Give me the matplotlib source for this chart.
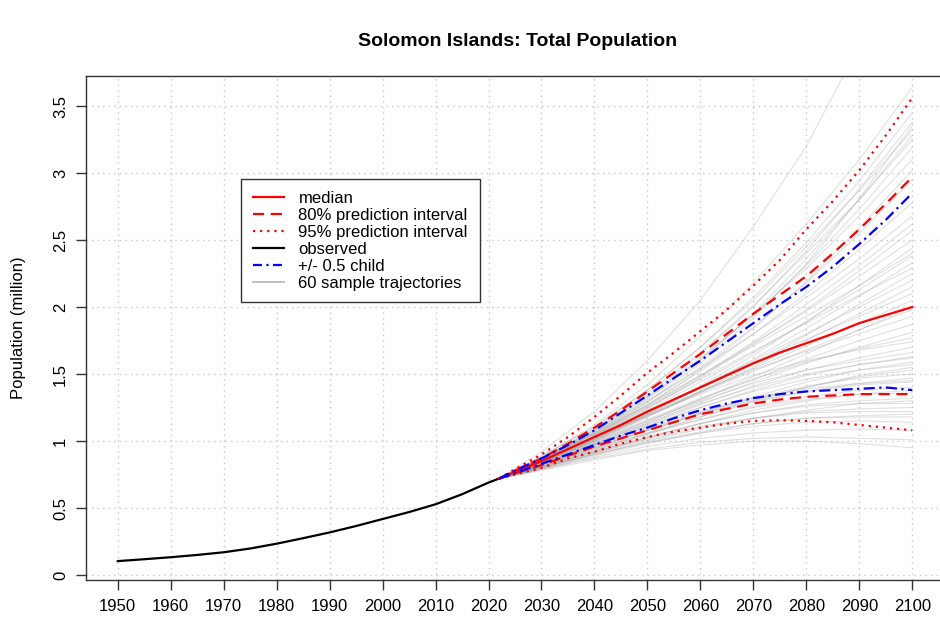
import matplotlib
matplotlib.use("Agg")
import matplotlib.pyplot as plt
from matplotlib.lines import Line2D

plt.rcParams['font.family'] = ['Liberation Sans', 'DejaVu Sans']

# ---------------- data ----------------
obs_years = [1950, 1955, 1960, 1965, 1970, 1975, 1980, 1985, 1990, 1995,
             2000, 2005, 2010, 2015, 2020, 2022]
obs_values = [0.104, 0.118, 0.133, 0.150, 0.170, 0.198, 0.234, 0.275, 0.318,
              0.366, 0.418, 0.470, 0.528, 0.603, 0.690, 0.720]

proj_years = [2022, 2025, 2030, 2035, 2040, 2045, 2050, 2055, 2060, 2065,
              2070, 2075, 2080, 2085, 2090, 2095, 2100]
median = [0.72, 0.77, 0.85, 0.94, 1.03, 1.12, 1.22, 1.31, 1.40, 1.49,
          1.58, 1.66, 1.73, 1.80, 1.88, 1.94, 2.00]
pi80_upper = [0.72, 0.78, 0.87, 0.98, 1.10, 1.23, 1.37, 1.51, 1.65, 1.80,
              1.95, 2.09, 2.23, 2.40, 2.58, 2.77, 2.97]
pi80_lower = [0.72, 0.76, 0.82, 0.89, 0.96, 1.02, 1.08, 1.14, 1.20, 1.24,
              1.28, 1.31, 1.33, 1.34, 1.35, 1.35, 1.35]
pi95_upper = [0.72, 0.79, 0.90, 1.03, 1.18, 1.34, 1.51, 1.66, 1.82, 1.98,
              2.16, 2.35, 2.58, 2.79, 3.02, 3.28, 3.56]
pi95_lower = [0.72, 0.75, 0.80, 0.87, 0.92, 0.98, 1.03, 1.07, 1.10, 1.13,
              1.15, 1.155, 1.15, 1.14, 1.12, 1.10, 1.08]
half_child_upper = [0.72, 0.78, 0.87, 0.97, 1.08, 1.21, 1.34, 1.47, 1.60, 1.74,
                    1.88, 2.02, 2.15, 2.30, 2.47, 2.65, 2.85]
half_child_lower = [0.72, 0.76, 0.83, 0.90, 0.97, 1.04, 1.10, 1.17, 1.23, 1.28,
                    1.32, 1.35, 1.37, 1.38, 1.39, 1.40, 1.38]

traj_years = [2022, 2030, 2040, 2050, 2060, 2070, 2080, 2090, 2100]
traj_values = [
    [.72, .92, 1.22, 1.60, 2.05, 2.60, 3.20, 3.95, 4.70],
    [.72, .88, 1.12, 1.42, 1.78, 2.18, 2.62, 3.10, 3.64],
    [.72, .89, 1.10, 1.38, 1.70, 2.07, 2.48, 2.94, 3.45],
    [.72, .87, 1.08, 1.34, 1.65, 2.00, 2.42, 2.88, 3.38],
    [.72, .88, 1.11, 1.38, 1.70, 2.05, 2.45, 2.87, 3.32],
    [.72, .86, 1.06, 1.31, 1.60, 1.95, 2.36, 2.80, 3.28],
    [.72, .87, 1.09, 1.36, 1.66, 2.01, 2.40, 2.80, 3.25],
    [.72, .86, 1.07, 1.32, 1.61, 1.94, 2.31, 2.73, 3.19],
    [.72, .87, 1.08, 1.33, 1.62, 1.94, 2.29, 2.68, 3.10],
    [.72, .86, 1.06, 1.29, 1.55, 1.85, 2.18, 2.55, 2.95],
    [.72, .86, 1.05, 1.27, 1.52, 1.80, 2.10, 2.43, 2.78],
    [.72, .85, 1.03, 1.24, 1.47, 1.72, 1.98, 2.27, 2.57],
    [.72, .86, 1.05, 1.26, 1.49, 1.73, 1.97, 2.23, 2.50],
    [.72, .84, 1.01, 1.20, 1.41, 1.64, 1.89, 2.16, 2.44],
    [.72, .85, 1.03, 1.23, 1.44, 1.66, 1.89, 2.13, 2.38],
    [.72, .84, 1.01, 1.20, 1.40, 1.61, 1.84, 2.08, 2.33],
    [.72, .85, 1.04, 1.25, 1.46, 1.67, 1.88, 2.09, 2.29],
    [.72, .84, 1.00, 1.18, 1.37, 1.57, 1.79, 2.02, 2.25],
    [.72, .85, 1.02, 1.21, 1.40, 1.60, 1.80, 2.00, 2.20],
    [.72, .84, 1.00, 1.18, 1.36, 1.55, 1.75, 1.95, 2.15],
    [.72, .85, 1.03, 1.22, 1.41, 1.59, 1.76, 1.93, 2.10],
    [.72, .84, 1.01, 1.19, 1.37, 1.54, 1.71, 1.88, 2.05],
    [.72, .84, 1.01, 1.19, 1.36, 1.52, 1.68, 1.83, 1.98],
    [.72, .85, 1.02, 1.20, 1.37, 1.53, 1.67, 1.80, 1.93],
    [.72, .84, .99, 1.15, 1.31, 1.46, 1.61, 1.75, 1.87],
    [.72, .83, .98, 1.13, 1.29, 1.44, 1.58, 1.70, 1.81],
    [.72, .84, 1.00, 1.16, 1.32, 1.46, 1.59, 1.69, 1.77],
    [.72, .83, .97, 1.12, 1.27, 1.41, 1.53, 1.62, 1.70],
    [.72, .84, .99, 1.15, 1.30, 1.43, 1.53, 1.60, 1.66],
    [.72, .83, .97, 1.11, 1.25, 1.38, 1.49, 1.57, 1.63],
    [.72, .82, .95, 1.08, 1.21, 1.33, 1.44, 1.53, 1.59],
    [.72, .83, .97, 1.11, 1.25, 1.37, 1.46, 1.53, 1.57],
    [.72, .82, .95, 1.08, 1.20, 1.31, 1.40, 1.48, 1.53],
    [.72, .83, .96, 1.09, 1.21, 1.32, 1.41, 1.47, 1.50],
    [.72, .82, .94, 1.06, 1.18, 1.29, 1.37, 1.43, 1.47],
    [.72, .82, .95, 1.08, 1.20, 1.30, 1.37, 1.42, 1.44],
    [.72, .81, .93, 1.05, 1.16, 1.26, 1.33, 1.38, 1.40],
    [.72, .82, .94, 1.06, 1.16, 1.25, 1.31, 1.35, 1.36],
    [.72, .81, .92, 1.03, 1.13, 1.21, 1.27, 1.30, 1.32],
    [.72, .81, .92, 1.03, 1.13, 1.21, 1.26, 1.28, 1.28],
    [.72, .80, .91, 1.01, 1.10, 1.17, 1.22, 1.24, 1.25],
    [.72, .81, .92, 1.02, 1.11, 1.17, 1.21, 1.22, 1.22],
    [.72, .80, .90, .99, 1.07, 1.13, 1.17, 1.18, 1.18],
    [.72, .80, .90, .99, 1.06, 1.11, 1.14, 1.15, 1.14],
    [.72, .79, .88, .96, 1.02, 1.06, 1.08, 1.09, 1.08],
    [.72, .79, .87, .94, .99, 1.02, 1.03, 1.02, 1.01],
    [.72, .78, .86, .93, .97, 1.00, 1.00, .98, .95],
    [.72, .87, 1.07, 1.30, 1.54, 1.80, 2.07, 2.36, 2.68],
    [.72, .85, 1.04, 1.25, 1.48, 1.74, 2.02, 2.31, 2.62],
    [.72, .85, 1.04, 1.27, 1.53, 1.84, 2.19, 2.59, 3.02],
    [.72, .86, 1.06, 1.27, 1.49, 1.71, 1.93, 2.16, 2.40],
    [.72, .85, 1.02, 1.19, 1.35, 1.49, 1.60, 1.68, 1.74],
    [.72, .84, .98, 1.13, 1.28, 1.40, 1.50, 1.57, 1.62],
    [.72, .81, .93, 1.05, 1.18, 1.30, 1.40, 1.49, 1.55],
    [.72, .83, .97, 1.10, 1.22, 1.32, 1.39, 1.43, 1.45],
    [.72, .80, .91, 1.02, 1.13, 1.23, 1.30, 1.35, 1.38],
    [.72, .83, .98, 1.14, 1.31, 1.48, 1.65, 1.83, 2.00],
    [.72, .80, .90, 1.00, 1.09, 1.17, 1.23, 1.28, 1.30],
    [.72, .86, 1.05, 1.29, 1.58, 1.92, 2.32, 2.81, 3.35],
    [.72, .79, .89, .98, 1.06, 1.13, 1.17, 1.19, 1.20],
]

x_ticks = [1950, 1960, 1970, 1980, 1990, 2000, 2010, 2020, 2030, 2040,
           2050, 2060, 2070, 2080, 2090, 2100]
y_ticks = [0, 0.5, 1, 1.5, 2, 2.5, 3, 3.5]
y_ticklabels = ['0', '0.5', '1', '1.5', '2', '2.5', '3', '3.5']

legend_labels = ['median', '80% prediction interval', '95% prediction interval',
                 'observed', '+/- 0.5 child', '60 sample trajectories']

# ---------------- figure ----------------
W, H = 940, 618
fig = plt.figure(figsize=(W / 100, H / 100), dpi=100)
ax = fig.add_axes([86 / W, (H - 580) / H, (944 - 86) / W, (580 - 76) / H])

for tv in traj_values:
    ax.plot(traj_years, tv, color='#9a9a9a', alpha=0.3, lw=0.8, zorder=2)

ax.plot(obs_years, obs_values, color='black', lw=1.6, zorder=4)
ax.plot(proj_years, median, color='red', lw=1.6, zorder=5)
ax.plot(proj_years, pi80_upper, color='red', lw=1.6, ls=(0, (5, 3)), zorder=5)
ax.plot(proj_years, pi80_lower, color='red', lw=1.6, ls=(0, (5, 3)), zorder=5)
ax.plot(proj_years, pi95_upper, color='red', lw=1.6, ls=(0, (1, 2.2)), zorder=5)
ax.plot(proj_years, pi95_lower, color='red', lw=1.6, ls=(0, (1, 2.2)), zorder=5)
ax.plot(proj_years, half_child_upper, color='blue', lw=1.6, ls=(0, (5, 2, 1, 2)), zorder=6)
ax.plot(proj_years, half_child_lower, color='blue', lw=1.6, ls=(0, (5, 2, 1, 2)), zorder=6)

ax.set_xlim(1944, 2106)
ax.set_ylim(-0.037, 3.724)

ax.set_xticks(x_ticks)
ax.set_xticklabels([str(t) for t in x_ticks])
ax.set_yticks(y_ticks)
ax.set_yticklabels(y_ticklabels, rotation=90, va='center')
ax.tick_params(axis='both', direction='out', length=7, width=1, color='#333333',
               labelsize=12)
ax.tick_params(axis='x', pad=7)
ax.tick_params(axis='y', pad=6)

ax.grid(True, color='#c8c8c8', ls=(0, (1, 3)), lw=1)
ax.set_axisbelow(True)
for s in ax.spines.values():
    s.set_color('#333333')
    s.set_linewidth(1)

ax.set_ylabel('Population (million)', fontsize=12)
ax.yaxis.set_label_coords(-(86 - 26) / 858, 0.5)

fig.text(518 / W, 1 - 41 / H, 'Solomon Islands: Total Population',
         fontsize=14, fontweight='bold', ha='center', va='center')

handles = [
    Line2D([], [], color='red', lw=1.6),
    Line2D([], [], color='red', lw=1.6, ls=(0, (5, 3))),
    Line2D([], [], color='red', lw=1.6, ls=(0, (1, 2.2))),
    Line2D([], [], color='black', lw=1.6),
    Line2D([], [], color='blue', lw=1.6, ls=(0, (4, 2, 1, 2))),
    Line2D([], [], color='#bbbbbb', lw=1.3),
]
leg = ax.legend(handles, legend_labels, loc='upper left',
                bbox_to_anchor=((241 - 86) / 858, (580 - 179) / 504),
                borderaxespad=0, fontsize=12, fancybox=False,
                edgecolor='#333333', framealpha=1, labelspacing=0.12,
                handlelength=1.9, handletextpad=0.85, borderpad=0.7)
leg.get_frame().set_linewidth(1)
leg.set_zorder(10)

fig.savefig('out.png', dpi=100)
